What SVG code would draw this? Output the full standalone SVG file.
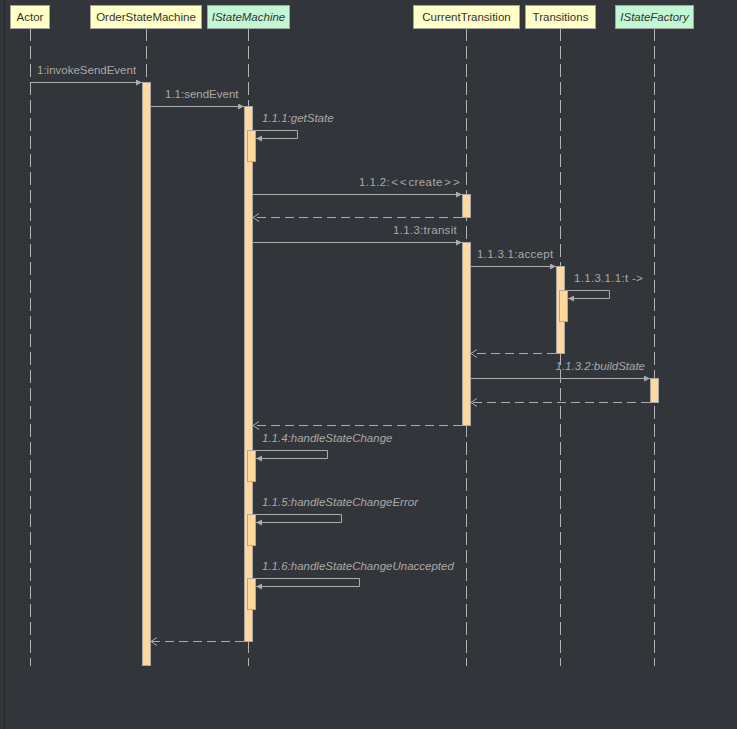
<svg xmlns="http://www.w3.org/2000/svg" width="737" height="729" viewBox="0 0 737 729">
<defs>
<style>
.bg{fill:#323539}
.hdr{stroke:#a3a3a3;stroke-width:1}
.cls{fill:#ffffc7}
.ifc{fill:#c2f7d3}
.ht{font-family:"Liberation Sans",Arial,sans-serif;font-size:11.5px;fill:#333333}
.hti{font-style:italic}
.life{stroke:#b4b4b4;stroke-width:1;stroke-dasharray:13 5;fill:none}
.act{fill:#ffd99c;stroke:#a8a8a8;stroke-width:1}
.msg{stroke:#acacac;stroke-width:1;fill:none}
.ret{stroke:#acacac;stroke-width:1;fill:none;stroke-dasharray:9 5}
.lbl{font-family:"Liberation Sans",Arial,sans-serif;font-size:11.5px;fill:#a9a9a9}
.it{font-style:italic}
</style>
<marker id="ah" markerWidth="8" markerHeight="8" refX="6" refY="3" orient="auto" markerUnits="userSpaceOnUse">
<path d="M0,0 L6,3 L0,6 z" fill="#acacac"/>
</marker>
<marker id="oh" markerWidth="10" markerHeight="10" refX="6" refY="4" orient="auto" markerUnits="userSpaceOnUse">
<path d="M0,0 L6,4 L0,8" fill="none" stroke="#acacac" stroke-width="1"/>
</marker>
</defs>
<rect class="bg" x="0" y="0" width="737" height="729"/>
<line x1="4.5" y1="0" x2="4.5" y2="729" stroke="#27292b" stroke-width="1"/>

<g id="lifelines">
<line class="life" x1="30.5" y1="28" x2="30.5" y2="666"/>
<line class="life" x1="146.5" y1="28" x2="146.5" y2="666"/>
<line class="life" x1="248.5" y1="28" x2="248.5" y2="666"/>
<line class="life" x1="466.5" y1="28" x2="466.5" y2="666"/>
<line class="life" x1="560.5" y1="28" x2="560.5" y2="666"/>
<line class="life" x1="654.5" y1="28" x2="654.5" y2="666"/>
</g>

<g id="Actor">
<rect class="hdr cls" x="10.5" y="5.5" width="39" height="23"/>
<text class="ht" x="30" y="21" text-anchor="middle">Actor</text>
</g>
<g id="OrderStateMachine">
<rect class="hdr cls" x="90.5" y="5.5" width="111" height="23"/>
<text class="ht" x="146" y="21" text-anchor="middle">OrderStateMachine</text>
<rect class="act" x="142.5" y="82.5" width="8" height="583"/>
</g>
<g id="IStateMachine">
<rect class="hdr ifc" x="207.5" y="5.5" width="82" height="23"/>
<text class="ht hti" x="248.5" y="21" text-anchor="middle">IStateMachine</text>
<rect class="act" x="244.5" y="106.5" width="8" height="535"/>
<rect class="act" x="247.5" y="130.5" width="8" height="31"/>
<rect class="act" x="247.5" y="450.5" width="8" height="31"/>
<rect class="act" x="247.5" y="514.5" width="8" height="31"/>
<rect class="act" x="247.5" y="578.5" width="8" height="31"/>
</g>
<g id="CurrentTransition">
<rect class="hdr cls" x="413.5" y="5.5" width="106" height="23"/>
<text class="ht" x="466.5" y="21" text-anchor="middle">CurrentTransition</text>
<rect class="act" x="462.5" y="194.5" width="8" height="23"/>
<rect class="act" x="462.5" y="242.5" width="8" height="183"/>
</g>
<g id="Transitions">
<rect class="hdr cls" x="525.5" y="5.5" width="70" height="23"/>
<text class="ht" x="560.5" y="21" text-anchor="middle">Transitions</text>
<rect class="act" x="556.5" y="266.5" width="8" height="87"/>
<rect class="act" x="559.5" y="290.5" width="8" height="31"/>
</g>
<g id="IStateFactory">
<rect class="hdr ifc" x="615.5" y="5.5" width="78" height="23"/>
<text class="ht hti" x="654.5" y="21" text-anchor="middle">IStateFactory</text>
<rect class="act" x="650.5" y="378.5" width="8" height="24"/>
</g>

<g id="connectors">
<line class="msg" x1="31" y1="82.5" x2="142" y2="82.5" marker-end="url(#ah)"/>
<line class="msg" x1="151" y1="106.5" x2="244" y2="106.5" marker-end="url(#ah)"/>
<polyline class="msg" points="256,130.5 297.5,130.5 297.5,138.5 256,138.5" marker-end="url(#ah)"/>
<line class="msg" x1="253" y1="194.5" x2="462" y2="194.5" marker-end="url(#ah)"/>
<line class="ret" x1="462" y1="217.5" x2="253" y2="217.5" marker-end="url(#oh)"/>
<line class="msg" x1="253" y1="242.5" x2="462" y2="242.5" marker-end="url(#ah)"/>
<line class="msg" x1="471" y1="266.5" x2="556" y2="266.5" marker-end="url(#ah)"/>
<polyline class="msg" points="568,290.5 609.5,290.5 609.5,298.5 568,298.5" marker-end="url(#ah)"/>
<line class="ret" x1="556" y1="353.5" x2="471" y2="353.5" marker-end="url(#oh)"/>
<line class="msg" x1="471" y1="378.5" x2="650" y2="378.5" marker-end="url(#ah)"/>
<line class="ret" x1="650" y1="402.5" x2="471" y2="402.5" marker-end="url(#oh)"/>
<line class="ret" x1="462" y1="425.5" x2="253" y2="425.5" marker-end="url(#oh)"/>
<polyline class="msg" points="256,450.5 327.5,450.5 327.5,458.5 256,458.5" marker-end="url(#ah)"/>
<polyline class="msg" points="256,514.5 341.5,514.5 341.5,522.5 256,522.5" marker-end="url(#ah)"/>
<polyline class="msg" points="256,578.5 359.5,578.5 359.5,586.5 256,586.5" marker-end="url(#ah)"/>
<line class="ret" x1="244" y1="641.5" x2="151" y2="641.5" marker-end="url(#oh)"/>
</g>

<g id="labels">
<text class="lbl" x="37" y="74">1:invokeSendEvent</text>
<text class="lbl" x="165" y="98">1.1:sendEvent</text>
<text class="lbl it" x="262" y="122">1.1.1:getState</text>
<text class="lbl" x="359" y="186" letter-spacing="0.4">1.1.2:<tspan dx="1">&lt;</tspan><tspan dx="1.5">&lt;</tspan><tspan dx="1.5">create</tspan><tspan dx="1.5">&gt;</tspan><tspan dx="1.5">&gt;</tspan></text>
<text class="lbl" x="457" y="234" text-anchor="end" letter-spacing="0.3">1.1.3:transit</text>
<text class="lbl" x="477" y="258" letter-spacing="0.3">1.1.3.1:accept</text>
<text class="lbl" x="574" y="282" letter-spacing="0.3">1.1.3.1.1:t -&gt;</text>
<text class="lbl it" x="645" y="370" text-anchor="end">1.1.3.2:buildState</text>
<text class="lbl it" x="262" y="442">1.1.4:handleStateChange</text>
<text class="lbl it" x="262" y="506">1.1.5:handleStateChangeError</text>
<text class="lbl it" x="262" y="570">1.1.6:handleStateChangeUnaccepted</text>
</g>
</svg>
